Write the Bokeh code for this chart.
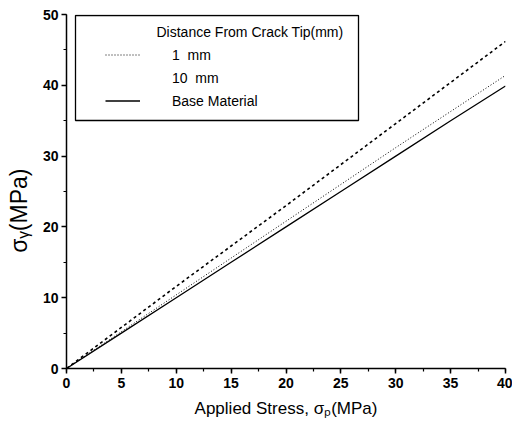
from bokeh.plotting import figure
from bokeh.models import (Range1d, Legend, LegendItem, Label, BoxAnnotation,
                          SingleIntervalTicker)
from bokeh.embed import file_html
from bokeh.resources import INLINE

# Data
applied_stress = [0, 5, 10, 15, 20, 25, 30, 35, 40]
sigma_1mm = [0, 5.2, 10.4, 15.6, 20.8, 26.0, 31.2, 36.3, 41.4]
sigma_10mm = [0, 5.8, 11.6, 17.3, 23.0, 28.8, 34.6, 40.4, 46.2]
sigma_base = [0, 5.0, 10.0, 15.0, 20.0, 25.0, 30.0, 35.0, 39.9]

legend_title = "Distance From Crack Tip(mm)"
labels = ["1  mm", "10  mm", "Base Material"]
x_title = "Applied Stress, σₚ(MPa)"
y_title = "σᵧ(MPa)"

FONT = "Liberation Sans"

p = figure(width=512, height=426, output_backend="svg", toolbar_location=None,
           x_range=Range1d(0, 40), y_range=Range1d(0, 50),
           min_border_left=66, min_border_right=7, min_border_top=14,
           min_border_bottom=58)
p.outline_line_color = None
p.xgrid.visible = False
p.ygrid.visible = False

r10 = p.line(applied_stress, sigma_10mm, line_color="black", line_width=1.6,
             line_dash="3 3")
r1 = p.line(applied_stress, sigma_1mm, line_color="black", line_width=1.0,
            line_dash="1 2")
rb = p.line(applied_stress, sigma_base, line_color="black", line_width=1.3)
r10_dummy = p.line(applied_stress, sigma_10mm, line_alpha=0)

for ax, step in ((p.xaxis[0], 5), (p.yaxis[0], 10)):
    ax.ticker = SingleIntervalTicker(interval=step, num_minor_ticks=2)
    ax.axis_line_width = 1.5
    ax.major_tick_line_width = 1.5
    ax.minor_tick_line_width = 1.2
    ax.major_tick_out = 5
    ax.major_tick_in = 0
    ax.minor_tick_out = 3
    ax.minor_tick_in = 0
    ax.major_label_text_font = FONT
    ax.major_label_text_font_style = "bold"
    ax.major_label_text_font_size = "14px"
    ax.major_label_text_color = "black"
    ax.axis_label_text_font = FONT
    ax.axis_label_text_font_style = "normal"
    ax.axis_label_text_color = "black"

p.xaxis.axis_label = x_title
p.xaxis.axis_label_text_font_size = "17px"
p.xaxis.axis_label_standoff = 8
# trailing no-break spaces push the rotated title a little below the middle
p.yaxis.axis_label = y_title + "\u00a0" * 6
p.yaxis.axis_label_text_font_size = "23px"
p.yaxis.axis_label_standoff = 8
p.yaxis.major_label_standoff = 3
p.xaxis.major_label_standoff = 4

# legend frame and title
box = BoxAnnotation(left=9, right=292, bottom=248, top=353,
                    left_units="screen", right_units="screen",
                    bottom_units="screen", top_units="screen",
                    fill_color="white", fill_alpha=1.0,
                    line_color="black", line_alpha=1.0, line_width=1.3)
p.add_layout(box)
p.add_layout(Label(x=90, y=337, x_units="screen", y_units="screen",
                   text=legend_title, text_font=FONT, text_font_size="14px",
                   text_baseline="middle", text_color="black"))

legend = Legend(items=[LegendItem(label=labels[0], renderers=[r1]),
                       LegendItem(label=labels[1], renderers=[r10_dummy]),
                       LegendItem(label=labels[2], renderers=[rb])],
                location=(39, 256), padding=0, margin=0, spacing=0,
                glyph_width=35, glyph_height=23, label_height=23,
                label_standoff=32, border_line_alpha=0,
                background_fill_alpha=0,
                label_text_font=FONT, label_text_font_size="14px",
                label_text_color="black")
p.add_layout(legend)

open("out.html", "w").write(file_html(p, INLINE))
